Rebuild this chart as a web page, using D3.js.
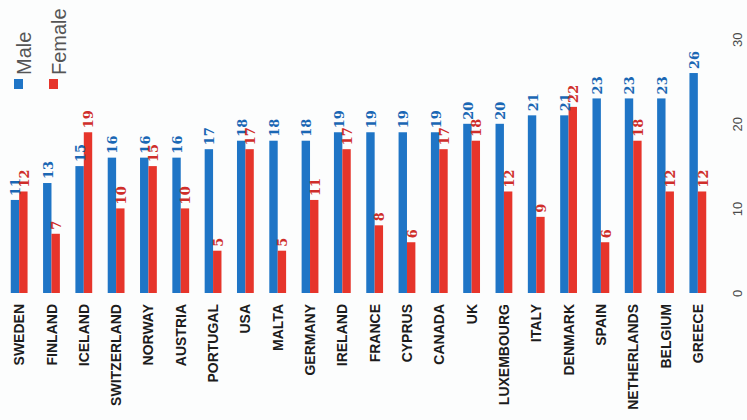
<!DOCTYPE html>
<html>
<head>
<meta charset="utf-8">
<script src="https://cdn.jsdelivr.net/npm/d3@7"></script>
<style>
  html, body { margin: 0; padding: 0; background: #fcfdfd; }
  svg { display: block; }
</style>
</head>
<body>
<svg id="chart" width="747" height="420"></svg>
<script>
// Average values per country, two series
const countries = ["SWEDEN", "FINLAND", "ICELAND", "SWITZERLAND", "NORWAY", "AUSTRIA",
  "PORTUGAL", "USA", "MALTA", "GERMANY", "IRELAND", "FRANCE", "CYPRUS", "CANADA", "UK",
  "LUXEMBOURG", "ITALY", "DENMARK", "SPAIN", "NETHERLANDS", "BELGIUM", "GREECE"];
const male   = [11, 13, 15, 16, 16, 16, 17, 18, 18, 18, 19, 19, 19, 19, 20, 20, 21, 21, 23, 23, 23, 26];
const female = [12, 7, 19, 10, 15, 10, 5, 17, 5, 11, 17, 8, 6, 17, 18, 12, 9, 22, 6, 18, 12, 12];
const seriesNames = ["Male", "Female"];
const valueTicks = [0, 10, 20, 30];

const barColors   = { Male: "#1f75c6", Female: "#e6352b" };
const labelColors = { Male: "#1a67b4", Female: "#cf2e2a" };

const series = { Male: male, Female: female };

const svg = d3.select("#chart");

// Category positions run left to right, values run bottom to top
const x = d3.scaleBand()
  .domain(countries)
  .range([3, 714])
  .paddingInner(0.48)
  .paddingOuter(0.24);

const xs = d3.scaleBand()
  .domain(seriesNames)
  .range([0, x.bandwidth()]);

const y = d3.scaleLinear()
  .domain([0, 30])
  .range([293, 39.2]);

// Bars
const groups = svg.append("g").attr("class", "bars")
  .selectAll("g")
  .data(countries)
  .join("g")
  .attr("transform", d => `translate(${x(d)},0)`);

groups.selectAll("rect")
  .data((c, i) => seriesNames.map(s => ({ s, v: series[s][i] })))
  .join("rect")
  .attr("x", d => xs(d.s))
  .attr("width", xs.bandwidth())
  .attr("y", d => y(d.v))
  .attr("height", d => y(0) - y(d.v))
  .attr("fill", d => barColors[d.s]);

// Value labels above each bar, turned to read upward
groups.selectAll("text")
  .data((c, i) => seriesNames.map(s => ({ s, v: series[s][i] })))
  .join("text")
  .attr("transform", d => `translate(${xs(d.s) + xs.bandwidth() / 2},${y(d.v) - 4}) rotate(-90)`)
  .attr("dy", "0.42em")
  .attr("text-anchor", "start")
  .attr("font-family", "'DejaVu Serif', serif")
  .attr("font-weight", "bold")
  .attr("font-size", 13)
  .attr("fill", d => labelColors[d.s])
  .text(d => d.v);

// Category axis (labels only)
const xAxis = svg.append("g")
  .attr("transform", "translate(0,304)")
  .call(d3.axisBottom(x).tickSize(0));
xAxis.select(".domain").remove();
xAxis.selectAll("text")
  .attr("x", 0)
  .attr("y", 0)
  .attr("dy", "0.36em")
  .attr("transform", "rotate(-90)")
  .attr("text-anchor", "end")
  .attr("font-family", "'Liberation Sans', Arial, sans-serif")
  .attr("font-weight", "bold")
  .attr("font-size", 14)
  .attr("fill", "#1c1c1c");

// Value axis (labels only) on the right
const yAxis = svg.append("g")
  .attr("transform", "translate(742,0)")
  .call(d3.axisRight(y).tickValues(valueTicks).tickSize(0));
yAxis.select(".domain").remove();
yAxis.selectAll("text")
  .attr("x", 0)
  .attr("y", 0)
  .attr("dy", null)
  .attr("transform", "rotate(-90)")
  .attr("text-anchor", "middle")
  .attr("font-family", "'Liberation Sans', Arial, sans-serif")
  .attr("font-size", 13)
  .attr("fill", "#4a4a4a");

// Legend
const legendPos = { Male: 14, Female: 49 };
const legend = svg.append("g").attr("class", "legend");
seriesNames.forEach(s => {
  legend.append("rect")
    .attr("x", legendPos[s])
    .attr("y", 79)
    .attr("width", 9)
    .attr("height", 10)
    .attr("fill", barColors[s]);
  legend.append("text")
    .attr("transform", `translate(${legendPos[s] + 17},75) rotate(-90)`)
    .attr("text-anchor", "start")
    .attr("font-family", "'Liberation Sans', Arial, sans-serif")
    .attr("font-size", 20)
    .attr("fill", "#555")
    .text(s);
});
</script>
</body>
</html>
